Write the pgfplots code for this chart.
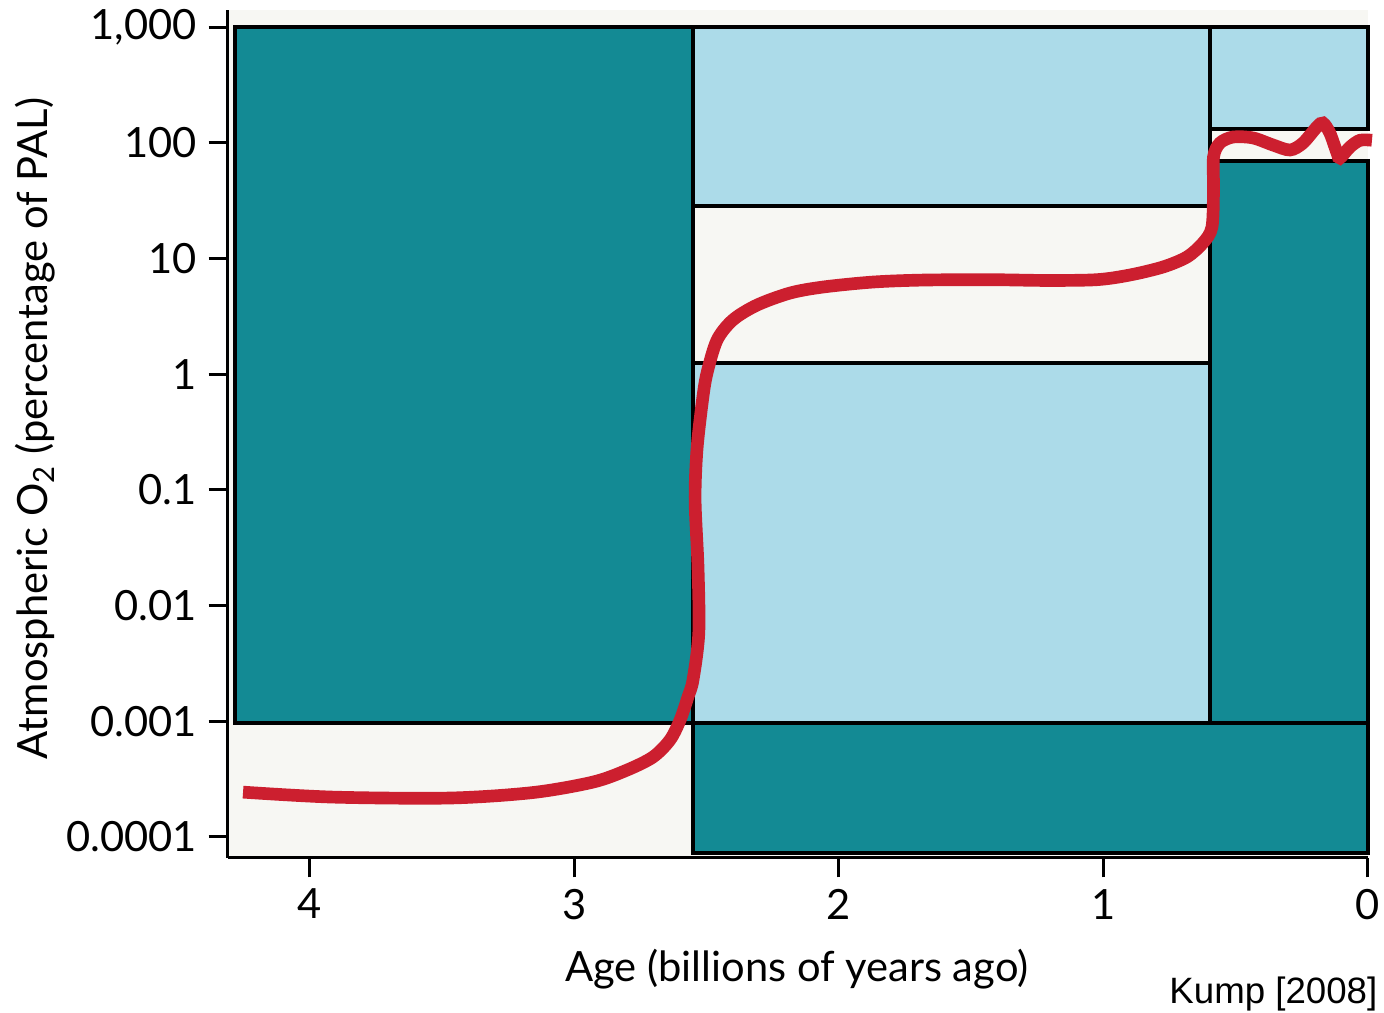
\documentclass[border=0pt]{standalone}
\usepackage{pgfplots}
\pgfplotsset{compat=1.18}
\usepackage{fontspec}
\setmainfont{Lato}
\newfontfamily\arialfont{Liberation Sans}
\definecolor{teal1}{HTML}{138A94}
\definecolor{lblue}{HTML}{ACDBE9}
\definecolor{bg}{HTML}{F7F7F3}
\definecolor{red1}{HTML}{CC1F2F}
\begin{document}
\begin{tikzpicture}
\begin{axis}[
  scale only axis, width=342pt, height=254.4pt,
  x dir=reverse, xmin=0, xmax=4.31,
  ymode=log, ymin=6.58e-5, ymax=1403,
  axis lines*=left, axis line style={line width=0.9pt},
  tick align=outside, major tick length=5.8pt,
  tick style={line width=0.9pt, black},
  xtick={0,1,2,3,4}, xticklabels={0,1,2,3,4},
  ytick={1e-4,1e-3,1e-2,1e-1,1,10,100,1000},
  yticklabels={0.0001,0.001,0.01,0.1,1,10,100,{1,000}},
  yminorticks=false, xminorticks=false,
  tick label style={font=\fontsize{12.5}{14}\selectfont},
  axis background/.style={fill=bg},
  every axis y label/.style={at={(axis description cs:-0.1693,0.5065)}, rotate=90, anchor=center, font=\fontsize{12.5}{14}\selectfont},
  every axis x label/.style={at={(axis description cs:0.499,-0.1462)}, anchor=base, font=\fontsize{12.5}{14}\selectfont},
  xlabel={Age (billions of years ago)},
  ylabel={Atmospheric O\textsubscript{2} (percentage of PAL)},
  clip=false, no markers,
]
\coordinate (ll) at (axis description cs:0,0);
% boxes
\addplot[fill=teal1, draw=black, line width=1.2pt] coordinates {(4.284,1000) (2.552,1000) (2.552,0.00096) (4.284,0.00096)} -- cycle;
\addplot[fill=teal1, draw=black, line width=1.2pt] coordinates {(2.552,0.00096) (0,0.00096) (0,7.26e-5) (2.552,7.26e-5)} -- cycle;
\addplot[fill=lblue, draw=black, line width=1.2pt] coordinates {(2.552,1000) (0.597,1000) (0.597,28.4) (2.552,28.4)} -- cycle;
\addplot[fill=lblue, draw=black, line width=1.2pt] coordinates {(2.552,1.25) (0.597,1.25) (0.597,0.00096) (2.552,0.00096)} -- cycle;
\addplot[fill=lblue, draw=black, line width=1.2pt] coordinates {(0.597,1000) (0,1000) (0,131) (0.597,131)} -- cycle;
\addplot[fill=teal1, draw=black, line width=1.2pt] coordinates {(0.597,69.5) (0,69.5) (0,0.00096) (0.597,0.00096)} -- cycle;
% oxygen curve
\addplot[red1, line width=3.8pt, smooth] coordinates {
(4.253,2.44e-4) (3.913,2.21e-4) (3.471,2.17e-4) (3.157,2.42e-4)
(2.930,2.98e-4) (2.802,3.78e-4) (2.703,4.91e-4) (2.639,6.89e-4) (2.601,1.02e-3)
(2.571,1.62e-3) (2.552,2.27e-3) (2.530,5.78e-3)
(2.533,0.0215) (2.544,0.0817) (2.537,0.221) (2.516,0.597) (2.499,1.02)
(2.461,1.97) (2.401,2.94) (2.310,3.95) (2.185,5.02) (2.060,5.66) (1.871,6.25)
(1.682,6.50) (1.429,6.55) (1.214,6.45) (1.025,6.55) (0.900,7.19) (0.775,8.43)
(0.684,10.3) (0.624,13.6) (0.590,18.6) (0.584,39.0) (0.584,75.2) (0.560,99.3)
(0.510,112) (0.435,110) (0.359,95.5)
(0.295,86.5) (0.246,99.3) (0.193,137) (0.170,148) (0.144,121) (0.117,81.5)
(0.106,73.8) (0.068,91.8) (0.030,105) (-0.015,105)};
\node[anchor=base east, inner sep=0pt, font=\arialfont\fontsize{11}{13}\selectfont] at (axis description cs:1.0088,-0.171) {Kump [2008]};
\end{axis}
\pgfresetboundingbox
\path[use as bounding box] (ll) ++(-68.4pt,-46.5pt) rectangle ++(415.2pt,303.9pt);
\end{tikzpicture}
\end{document}
